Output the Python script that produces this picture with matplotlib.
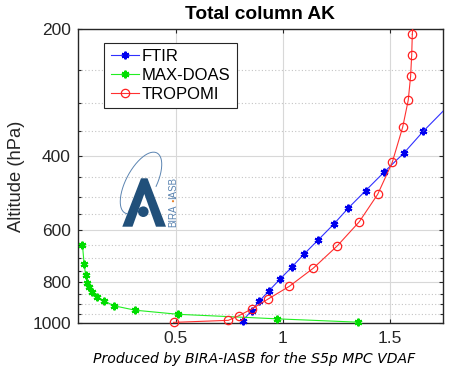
import numpy as np
import matplotlib
matplotlib.use("Agg")
import matplotlib.pyplot as plt
import matplotlib.patches as patches
from matplotlib.ticker import FixedLocator, NullFormatter

# averaging kernel values (x) on pressure levels (hPa), surface -> top
ftir_ak = [0.813, 0.855, 0.891, 0.937, 0.987, 1.042, 1.101, 1.166, 1.238,
           1.306, 1.388, 1.473, 1.567, 1.657, 1.77]
ftir_p = [986, 933, 886, 836, 786, 736, 684, 634, 582, 533, 484, 438, 394, 350, 306]

maxdoas_ak = [1.353, 0.975, 0.511, 0.311, 0.213, 0.164, 0.131, 0.108,
              0.095, 0.087, 0.079, 0.072, 0.064]
maxdoas_p = [994, 976, 952, 931, 909, 885, 866, 844, 821, 803, 768, 723, 650]

tropomi_ak = [0.49, 0.746, 0.796, 0.855, 0.933, 1.031, 1.143, 1.255, 1.358,
              1.444, 1.512, 1.561, 1.587, 1.598, 1.603, 1.606, 1.612]
tropomi_p = [995, 984, 959, 925, 875, 817, 740, 655, 574, 494, 415, 342,
             295, 259, 231, 206, 185]

y_major = [200, 400, 600, 800, 1000]
y_minor = [p for p in range(250, 1000, 50) if p not in y_major]
x_major = [0.5, 1, 1.5]

plt.rcParams['font.family'] = ['Liberation Sans', 'DejaVu Sans']

fig = plt.figure(figsize=(4.51, 3.68), dpi=100)
ax = fig.add_axes([0.1723, 0.1215, 0.8093, 0.7997])

# last point of ftir / tropomi lies outside the box: draw that piece clipped
l1, = ax.plot(ftir_ak[:-1], ftir_p[:-1], color='#3030ff', lw=0.8,
              marker=(6, 2, 0), ms=5.5, mec='#0000ee', mew=1.5, clip_on=False, zorder=3)
ax.plot(ftir_ak[-2:], ftir_p[-2:], color='#3030ff', lw=0.8, zorder=3)
l2, = ax.plot(maxdoas_ak, maxdoas_p, color='#22ee22', lw=0.8,
              marker=(6, 2, 0), ms=5.5, mec='#00dd00', mew=1.5, clip_on=False, zorder=3)
l3, = ax.plot(tropomi_ak[:-1], tropomi_p[:-1], color='#ff3030', lw=0.8,
              marker='o', ms=6, mfc='none', mec='#ff2020', mew=0.9, clip_on=False, zorder=4)
ax.plot(tropomi_ak[-2:], tropomi_p[-2:], color='#ff3030', lw=0.8, zorder=4)

ax.set_yscale('log')
ax.set_ylim(1000, 200)
ax.set_xlim(0.042, 1.748)
ax.yaxis.set_major_locator(FixedLocator(y_major))
ax.set_yticklabels([str(v) for v in y_major])
ax.yaxis.set_minor_locator(FixedLocator(y_minor))
ax.yaxis.set_minor_formatter(NullFormatter())
ax.set_xticks(x_major)
ax.set_xticklabels(['0.5', '1', '1.5'])

ax.grid(True, which='major', color='#d8d8d8', lw=0.8, ls='-')
ax.grid(True, which='minor', axis='y', color='#c4c4c4', lw=0.8, ls=(0, (1, 2)))
ax.set_axisbelow(True)
ax.tick_params(which='both', direction='in', top=True, right=True, width=0.8,
               labelsize=12.5, colors='#262626', labelcolor='#262626')
ax.tick_params(which='major', length=3)
ax.tick_params(which='minor', length=2.5)
ax.tick_params(axis='y', pad=5)
ax.tick_params(axis='x', pad=5.5)
for s in ax.spines.values():
    s.set_color('#262626')
    s.set_linewidth(1.0)

ax.set_ylabel('Altitude (hPa)', fontsize=13.2, color='#262626', labelpad=5)
ax.set_title('Total column AK', fontsize=13.8, fontweight='bold', pad=7)

leg = ax.legend([l1, l2, l3], ['FTIR', 'MAX-DOAS', 'TROPOMI'], loc='upper left',
                bbox_to_anchor=(0.073, 0.954), borderaxespad=0, fontsize=12,
                handlelength=1.7, handletextpad=0.15, labelspacing=0.22,
                borderpad=0.4, fancybox=False, framealpha=1, edgecolor='#262626')
leg.get_frame().set_linewidth(0.8)

fig.text(254 / 451, 1 - 359 / 368, 'Produced by BIRA-IASB for the S5p MPC VDAF',
         ha='center', va='center', fontsize=10.1, style='italic', family='DejaVu Sans')

# BIRA-IASB logo, drawn in pixel-like coordinates
lax = fig.add_axes([115 / 451, 1 - 230 / 368, 65 / 451, 82 / 368])
lax.set_xlim(115, 180)
lax.set_ylim(230, 148)
lax.axis('off')
lax.patch.set_alpha(0)
logo_blue = '#21507a'
t = np.linspace(-1.45, 3.3, 200)
th = np.radians(62)
ex = 141 + 34 * np.cos(t) * np.cos(th) - 15 * np.sin(t) * np.sin(th)
ey = 183 - (34 * np.cos(t) * np.sin(th) + 15 * np.sin(t) * np.cos(th))
lax.plot(ex, ey, color='#5b84b1', lw=0.7)
lax.add_patch(patches.Polygon([(122.3, 226.7), (141.0, 178.3), (147.5, 178.3), (166, 226.7),
                               (156, 226.7), (144.3, 194), (132.5, 226.7)],
                              closed=True, facecolor=logo_blue, edgecolor='none'))
lax.add_patch(patches.Circle((143.3, 211.7), 5.3, facecolor=logo_blue, edgecolor='none'))
lax.text(173.3, 215.5, 'BIRA', rotation=90, ha='center', va='center', fontsize=7, color='#5b84b1')
lax.add_patch(patches.Circle((173.0, 201.2), 1.1, facecolor='#e8822a', edgecolor='none'))
lax.text(173.3, 188.0, 'IASB', rotation=90, ha='center', va='center', fontsize=7, color='#5b84b1')

fig.savefig('out.png', dpi=100)
